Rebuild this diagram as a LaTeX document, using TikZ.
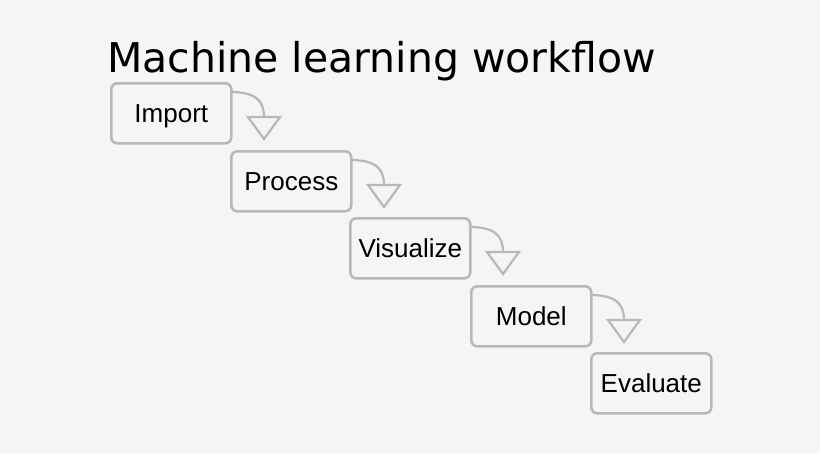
\documentclass[tikz,border=0pt]{standalone}
\usepackage{fontspec}
\setmainfont{Liberation Sans}
\newfontfamily\titlefont{DejaVu Sans}
\definecolor{bg}{HTML}{F5F5F5}
\definecolor{edge}{HTML}{B8B8B8}
\begin{document}
\begin{tikzpicture}[x=1pt,y=-1pt,
  stepbox/.style={draw=edge,line width=2.6pt,rounded corners=6pt,minimum width=120pt,minimum height=60pt,inner sep=0pt,text depth=0pt,font=\fontsize{26}{28}\selectfont,anchor=north west},
  conn/.style={draw=edge,line width=2.2pt},
  head/.style={draw=edge,fill=bg,line width=2.2pt,line join=miter}]
\fill[bg] (0,0) rectangle (820,453);
\useasboundingbox (0,0) rectangle (820,453);
\node[anchor=base west,inner sep=0pt,font=\titlefont\fontsize{41}{46}\selectfont] (title) at (107,72) {Machine learning workflow};
\node[stepbox] (a) at (110,82) {Import};
\node[stepbox] (b) at (230,150) {Process};
\node[stepbox] (c) at (349,217) {Visualize};
\node[stepbox] (d) at (470,285) {Model};
\node[stepbox] (e) at (590,352) {Evaluate};
\foreach \n/\x/\y in {a/230/92,b/350/160,c/469/227,d/590/295}{
  \coordinate (s\n) at (\x,\y);
  \coordinate (t\n) at (\x+34,\y+25);
  \draw[conn] (s\n) .. controls (\x+25,\y) and (\x+34,\y+8) .. (t\n);
  \draw[head] (\x+18,\y+25) -- (\x+50,\y+25) -- (\x+34,\y+47) -- cycle;
}
\end{tikzpicture}
\end{document}
